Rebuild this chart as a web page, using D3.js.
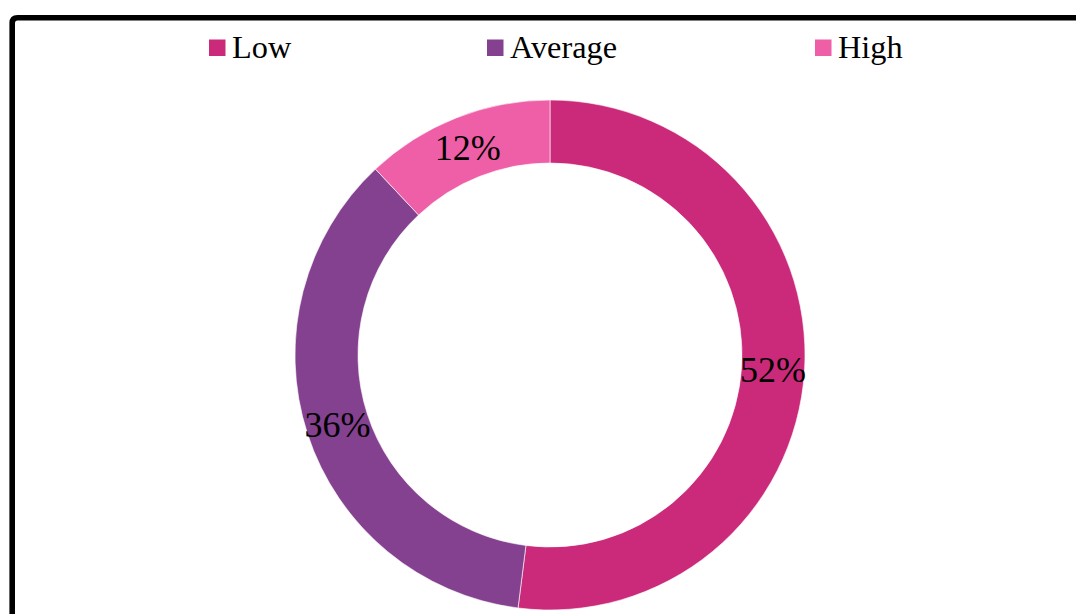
<!DOCTYPE html>
<html><head><meta charset="utf-8">
<script src="https://cdn.jsdelivr.net/npm/d3@7"></script>
<style>html,body{margin:0;padding:0;background:#fff;overflow:hidden}</style>
</head><body>
<svg id="chart" width="1076" height="614"></svg>
<script>
const categories = ["Low", "Average", "High"];
const values = [52, 36, 12];
const labels = ["52%", "36%", "12%"];
const colors = ["#CB2A7B", "#84418F", "#EE5FA7"];

const svg = d3.select("#chart");
const W = 1076, H = 614;
svg.append("rect").attr("width", W).attr("height", H).attr("fill", "#fff");

// frame (cut off at right and bottom)
svg.append("path")
  .attr("d", "M12.2,620 L12.2,23 Q12.2,17.7 17.5,17.7 L1090,17.7")
  .attr("fill", "none").attr("stroke", "#000").attr("stroke-width", 5.6);

const cx = 550, cy = 355, rOuter = 255, rInner = 192;
const pie = d3.pie().sort(null).value(d => d)(values);
const arc = d3.arc().innerRadius(rInner).outerRadius(rOuter);
const g = svg.append("g").attr("transform", `translate(${cx},${cy})`);
g.selectAll("path.slice").data(pie).enter().append("path")
  .attr("class", "slice")
  .attr("d", arc)
  .attr("fill", (d, i) => colors[i])
  .attr("stroke", "#fff").attr("stroke-width", 0.6);

g.selectAll("text.lbl").data(pie).enter().append("text")
  .attr("class", "lbl")
  .attr("x", d => arc.centroid(d)[0])
  .attr("y", d => arc.centroid(d)[1] + 13)
  .attr("text-anchor", "middle")
  .attr("font-family", "Liberation Serif, Times New Roman, serif")
  .attr("font-size", 36)
  .attr("fill", "#000")
  .text((d, i) => labels[i]);

// legend
const legX = [209, 487, 815];
const leg = svg.append("g");
categories.forEach((c, i) => {
  leg.append("rect").attr("x", legX[i]).attr("y", 39.5).attr("width", 16.5).attr("height", 16.5).attr("fill", colors[i]);
  leg.append("text").attr("x", legX[i] + 23).attr("y", 57.5)
    .attr("font-family", "Liberation Serif, Times New Roman, serif")
    .attr("font-size", 32.3).attr("fill", "#000").text(c);
});
</script>
</body></html>
